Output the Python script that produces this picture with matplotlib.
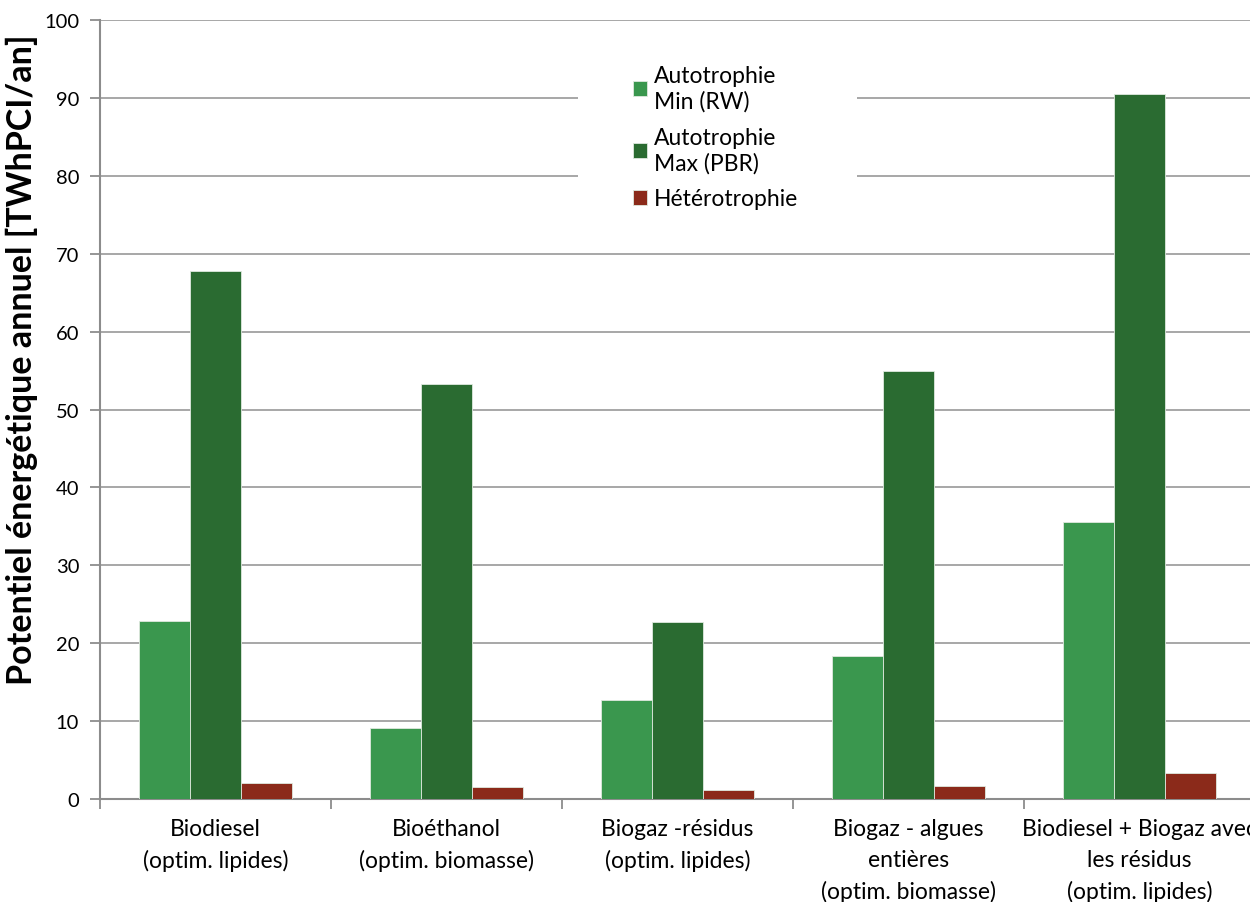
import numpy as np
import matplotlib.pyplot as plt
from matplotlib.patches import Rectangle

plt.rcParams['font.family'] = ['Lato', 'DejaVu Sans']

categories = [
    "Biodiesel\n(optim. lipides)",
    "Bioéthanol\n(optim. biomasse)",
    "Biogaz -résidus\n(optim. lipides)",
    "Biogaz - algues\nentières\n(optim. biomasse)",
    "Biodiesel + Biogaz avec\nles résidus\n(optim. lipides)",
]
auto_min = [22.9, 9.1, 12.7, 18.3, 35.6]
auto_max = [67.8, 53.3, 22.7, 55.0, 90.5]
hetero = [2.0, 1.6, 1.2, 1.7, 3.3]

series_labels = ["Autotrophie\nMin (RW)", "Autotrophie\nMax (PBR)", "Hétérotrophie"]
colors = ["#3A974E", "#2A6B31", "#8B2A1A"]

fig = plt.figure(figsize=(12.5, 9.03), dpi=100)
ax = fig.add_axes([0.08, 0.1141, 0.924, 0.8626])

x = np.arange(len(categories))
w = 0.22
for i, (vals, lab, c) in enumerate(zip([auto_min, auto_max, hetero], series_labels, colors)):
    ax.bar(x + (i - 1) * w, vals, w, color=c, label=lab,
           edgecolor="#dfe9df", linewidth=0.6, zorder=3)

ax.set_xlim(-0.5, len(categories) - 0.5)
ax.set_ylim(0, 100)
ax.set_yticks(np.arange(0, 101, 10))
ax.yaxis.grid(True, color="#A0A0A0", linewidth=1.3, zorder=0)
ax.set_axisbelow(True)

# category labels between boundary ticks
ax.set_xticks(np.arange(-0.5, len(categories), 1.0))
ax.set_xticklabels([])
ax.set_xticks(x, minor=True)
ax.set_xticklabels(categories, minor=True, fontsize=16.5, linespacing=1.55)
ax.tick_params(axis="x", which="minor", length=0, pad=14)
ax.tick_params(axis="x", which="major", length=7, width=1.3, color="#8C8C8C")
ax.tick_params(axis="y", length=7, width=1.3, color="#8C8C8C", labelsize=14.5, pad=8)

for s in ["top", "right"]:
    ax.spines[s].set_visible(False)
for s in ["left", "bottom"]:
    ax.spines[s].set_color("#8C8C8C")
    ax.spines[s].set_linewidth(1.5)

ax.set_ylabel("Potentiel énergétique annuel [TWhPCI/an]", fontsize=24.5,
              fontweight="bold")
ax.yaxis.set_label_coords(-0.054, 0.565)

# white box behind the legend (hides the gridlines there)
ax.add_patch(Rectangle((0.414, 0.738), 0.241, 0.25, transform=ax.transAxes,
                       facecolor="white", edgecolor="none", zorder=1))

leg = ax.legend(loc="upper center", bbox_to_anchor=(0.533, 0.969), frameon=False,
                fontsize=16.5, handlelength=0.6, handleheight=0.6,
                handletextpad=0.3, labelspacing=0.65)
for t in leg.get_texts():
    t.set_linespacing(1.25)

fig.savefig("out.png", dpi=100)
